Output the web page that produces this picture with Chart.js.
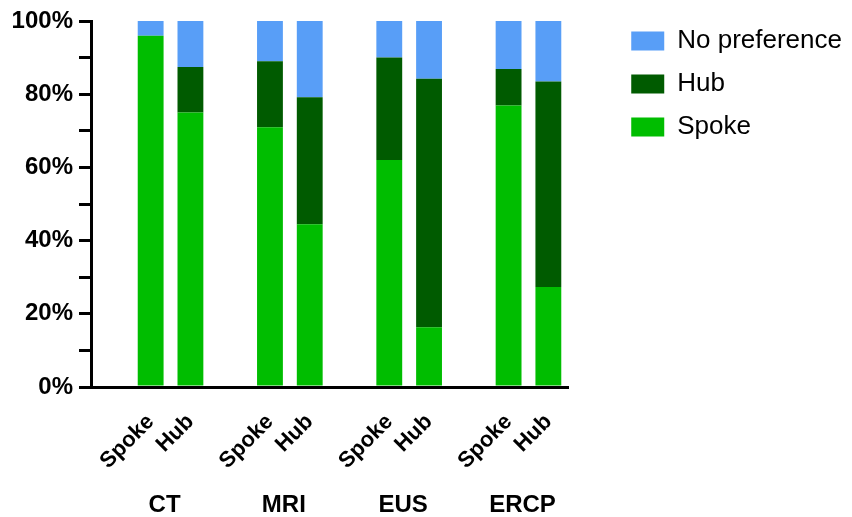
<!DOCTYPE html>
<html><head><meta charset="utf-8">
<script src="https://cdn.jsdelivr.net/npm/chart.js@4.4.1/dist/chart.umd.min.js"></script>
<style>html,body{margin:0;padding:0;background:#fff}#wrap{width:852px;height:517px;position:relative}</style>
</head><body><div id="wrap"><canvas id="c" width="852" height="517"></canvas></div>
<script>
// Data
const groups = ['CT', 'MRI', 'EUS', 'ERCP'];
const respondents = ['Spoke', 'Hub'];
// values per bar: CT-Spoke, CT-Hub, MRI-Spoke, MRI-Hub, EUS-Spoke, EUS-Hub, ERCP-Spoke, ERCP-Hub
const spokePref = [96, 75, 71, 44.5, 62, 16.3, 76.9, 27.3];
const hubPref = [0, 12.4, 18, 34.7, 28, 67.9, 10, 56.2];
const noPref = [4, 12.6, 11, 20.8, 10, 15.8, 13.1, 16.5];
const yTicks = [0, 20, 40, 60, 80, 100];

// build slot layout: one empty slot before each group
const slotLabels = [];
const groupCenters = [];
const slotIndex = [];
groups.forEach((g, gi) => {
  slotLabels.push('');
  const start = slotLabels.length;
  respondents.forEach((r, ri) => { slotIndex.push(slotLabels.length); slotLabels.push(r); });
  groupCenters.push(start + (respondents.length - 1) / 2);
});
function toSlots(arr) {
  const out = slotLabels.map(() => null);
  arr.forEach((v, i) => { out[slotIndex[i]] = v; });
  return out;
}

const FONT = "'Liberation Sans', Arial, Helvetica, sans-serif";
Chart.defaults.font.family = FONT;
Chart.defaults.color = '#000';

new Chart(document.getElementById('c'), {
  type: 'bar',
  data: {
    labels: slotLabels,
    datasets: [
      { label: 'Spoke', data: toSlots(spokePref), backgroundColor: '#00bd00', borderWidth: 0 },
      { label: 'Hub', data: toSlots(hubPref), backgroundColor: '#005b00', borderWidth: 0 },
      { label: 'No preference', data: toSlots(noPref), backgroundColor: '#589ef7', borderWidth: 0 }
    ]
  },
  options: {
    responsive: false,
    animation: false,
    devicePixelRatio: 1,
    datasets: { bar: { barPercentage: 0.65, categoryPercentage: 1.0 } },
    layout: { padding: { left: 10, top: 11, right: 0, bottom: 0 } },
    plugins: {
      tooltip: { enabled: false },
      legend: {
        position: 'right',
        align: 'start',
        reverse: true,
        maxWidth: 400,
        labels: {
          boxWidth: 33, boxHeight: 19, padding: 17,
          color: '#000',
          font: { size: 26, family: FONT }
        }
      }
    },
    scales: {
      x: {
        type: 'category',
        stacked: true,
        weight: 0,
        grid: { display: false, drawTicks: false },
        border: { display: true, color: '#000', width: 3 },
        afterFit: s => { s.height = 82; },
        ticks: {
          autoSkip: false, maxRotation: 45, minRotation: 45, padding: 22,
          color: '#000', font: { size: 22, weight: 'bold', family: FONT }
        }
      },
      xGroup: {
        type: 'linear',
        position: 'bottom',
        weight: 1,
        offset: false,
        min: -0.5, max: slotLabels.length - 0.5,
        grid: { display: false, drawTicks: false, offset: false },
        border: { display: false },
        afterBuildTicks: s => { s.ticks = groupCenters.map(v => ({ value: v })); },
        afterFit: s => { s.height = 48; },
        ticks: {
          autoSkip: false, maxRotation: 0, minRotation: 0, padding: 22, labelOffset: -6,
          color: '#000', font: { size: 24, weight: 'bold', family: FONT },
          callback: (v, i) => groups[i]
        }
      },
      xTop: {
        type: 'linear', position: 'top', display: true, offset: false,
        grid: { display: false, drawTicks: false }, border: { display: false },
        ticks: { display: false },
        afterFit: s => { s.height = 10; }
      },
      y: {
        stacked: true,
        min: 0, max: 100,
        afterBuildTicks: s => {
          const t = [];
          for (let v = 0; v <= 100; v += 10) t.push({ value: v });
          s.ticks = t;
        },
        afterFit: s => { s.width = 81; },
        grid: { drawOnChartArea: false, drawTicks: true, tickLength: 12, color: '#000', lineWidth: 3 },
        border: { display: true, color: '#000', width: 3 },
        ticks: {
          padding: 6, color: '#000', font: { size: 24, weight: 'bold', family: FONT },
          callback: v => (yTicks.includes(v) ? v + '%' : '')
        }
      },
      yGap: {
        type: 'linear', position: 'right', display: true,
        grid: { display: false, drawTicks: false }, border: { display: false },
        ticks: { display: false },
        afterFit: s => { s.width = 46; }
      }
    }
  }
});
</script>
</body></html>
